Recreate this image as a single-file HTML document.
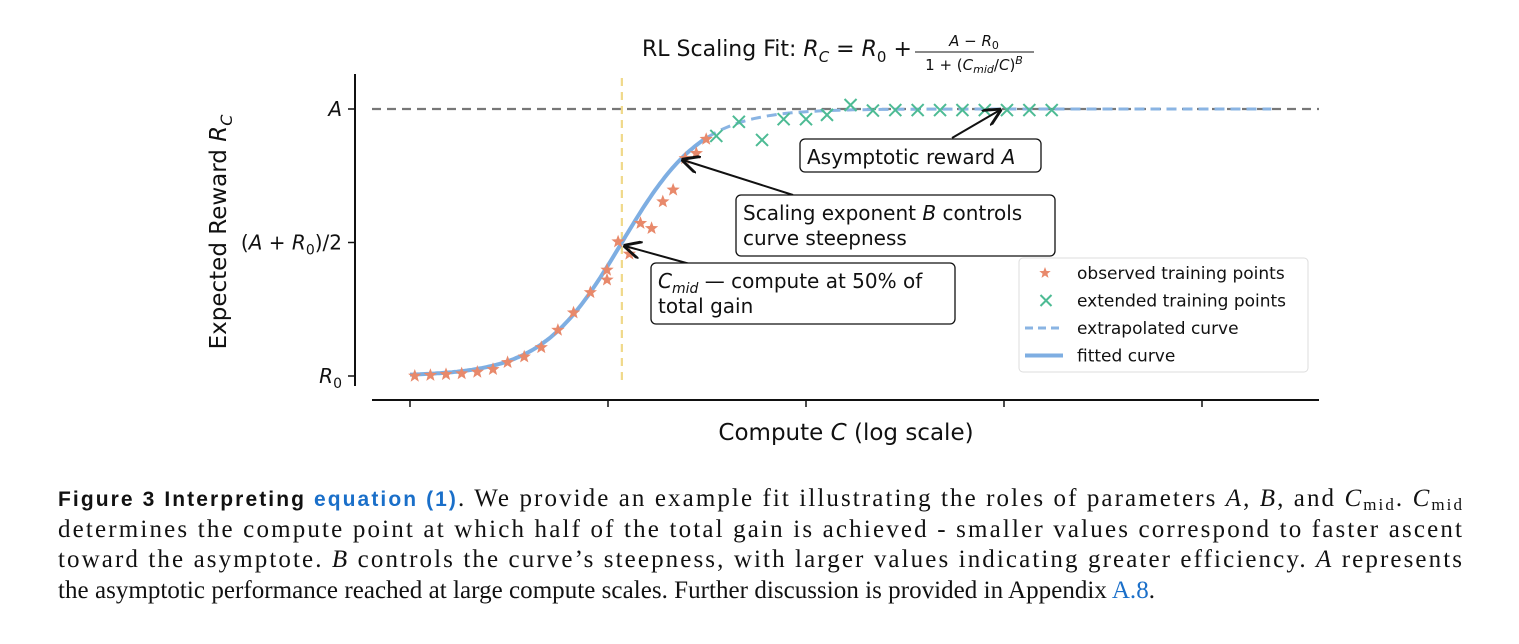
<!DOCTYPE html>
<html><head><meta charset="utf-8"><style>
body{margin:0;background:#fff;width:1519px;height:644px;overflow:hidden}
svg{display:block}
.s{font-family:"DejaVu Sans","Liberation Sans",sans-serif;fill:#111}
.c{font-family:"Liberation Serif","DejaVu Serif",serif;font-size:25px;fill:#111}
.b{font-family:"Liberation Sans","DejaVu Sans",sans-serif;font-weight:bold;font-size:21px}
</style></head><body>
<svg id="chart" width="1519" height="644" viewBox="0 0 1519 644" xmlns="http://www.w3.org/2000/svg">
<g id="plot"></g>
<text class="s" x="642" y="56" font-size="22">RL Scaling Fit: <tspan font-style="italic">R</tspan><tspan font-style="italic" font-size="15" dy="6">C</tspan><tspan dy="-6"> = </tspan><tspan font-style="italic">R</tspan><tspan font-size="15" dy="6">0</tspan><tspan dy="-6"> + </tspan></text>
<text class="s" x="974" y="46" font-size="15" text-anchor="middle" font-style="italic">A − R<tspan font-style="normal" font-size="11" dy="3">0</tspan></text>
<line x1="915" y1="52" x2="1034" y2="52" stroke="#111" stroke-width="1"/>
<text class="s" x="974" y="70" font-size="15" text-anchor="middle">1 + (<tspan font-style="italic">C</tspan><tspan font-style="italic" font-size="11" dy="3">mid</tspan><tspan dy="-3">/</tspan><tspan font-style="italic">C</tspan>)<tspan font-style="italic" font-size="11" dy="-6">B</tspan></text>
<text class="s" transform="translate(226,232) rotate(-90)" text-anchor="middle" font-size="23">Expected Reward  <tspan font-style="italic">R</tspan><tspan font-style="italic" font-size="16" dy="6">C</tspan></text>
<text class="s" x="846" y="440" text-anchor="middle" font-size="23">Compute  <tspan font-style="italic">C</tspan>  (log scale)</text>
<g>
<text class="c" x="58" y="506" textLength="1404" lengthAdjust="spacing"><tspan class="b">Figure 3  Interpreting </tspan><tspan class="b" fill="#1a6fc9">equation (1)</tspan>. We provide an example fit illustrating the roles of parameters <tspan font-style="italic">A</tspan>, <tspan font-style="italic">B</tspan>, and <tspan font-style="italic">C</tspan><tspan font-size="17" dy="4">mid</tspan><tspan dy="-4">. </tspan><tspan font-style="italic">C</tspan><tspan font-size="17" dy="4">mid</tspan></text>
<text class="c" x="58" y="537" textLength="1404" lengthAdjust="spacing">determines the compute point at which half of the total gain is achieved - smaller values correspond to faster ascent</text>
<text class="c" x="58" y="567" textLength="1404" lengthAdjust="spacing">toward the asymptote. <tspan font-style="italic">B</tspan> controls the curve’s steepness, with larger values indicating greater efficiency. <tspan font-style="italic">A</tspan> represents</text>
<text class="c" x="58" y="598" textLength="1097" lengthAdjust="spacing">the asymptotic performance reached at large compute scales. Further discussion is provided in Appendix <tspan fill="#1a6fc9">A.8</tspan>.</text>
</g>
</svg>
<script>
const starX=[0.024,0.103,0.182,0.261,0.340,0.419,0.493,0.577,0.663,0.747,0.826,0.911,0.995,0.995,1.051,1.108,1.164,1.220,1.277,1.329,1.390,1.446,1.496];
const starY=[0,0.003,0.006,0.009,0.015,0.025,0.051,0.072,0.107,0.172,0.237,0.313,0.360,0.397,0.503,0.457,0.572,0.553,0.653,0.697,0.815,0.834,0.887];
const crossX=[1.547,1.661,1.778,1.887,2.000,2.106,2.225,2.338,2.451,2.564,2.677,2.790,2.903,3.015,3.128,3.241];
const crossY=[0.899,0.952,0.884,0.962,0.962,0.978,1.015,0.994,0.996,0.996,0.996,0.996,0.996,0.996,0.996,0.996];
const fitMid=[1.07];
const fitB=[2.14];
const fitRange=[0,1.50];
const extraRange=[1.50,4.35];
const xTicks=[0,1,2,3,4];
const yTickVals=[0,0.5,1];
const yTickLabels=["R0","(A+R0)/2","A"];

const NS="http://www.w3.org/2000/svg";
const g=document.getElementById('plot');
const X=t=>410+t*198, Y=f=>376-f*267;
function mk(tag,a,p){const e=document.createElementNS(NS,tag);for(const k in a)e.setAttribute(k,a[k]);(p||g).appendChild(e);return e;}
const curve=t=>1/(1+Math.pow(10,fitB[0]*(fitMid[0]-t)));
function path(r){let d="";for(let i=0;i<=120;i++){const t=r[0]+(r[1]-r[0])*i/120;d+=(i?"L":"M")+X(t).toFixed(1)+","+Y(curve(t)).toFixed(1);}return d;}

let e=mk('line',{x1:355,y1:74,x2:355,y2:386,stroke:'#111','stroke-width':2});

e=mk('line',{x1:372,y1:400,x2:1319,y2:400,stroke:'#111','stroke-width':2});

xTicks.forEach(t=>{const l=mk('line',{x1:X(t),y1:400,x2:X(t),y2:407,stroke:'#111','stroke-width':1.5});
});
yTickVals.forEach((v,i)=>{const l=mk('line',{x1:348,y1:Y(v),x2:355,y2:Y(v),stroke:'#111','stroke-width':1.5});

const tx=mk('text',{x:342,y:Y(v)+7,'text-anchor':'end','font-size':20,class:'s'});

const lb=yTickLabels[i];
if(lb==="A"){tx.innerHTML='<tspan font-style="italic">A</tspan>';}
else if(lb==="R0"){tx.innerHTML='<tspan font-style="italic">R</tspan><tspan font-size="14" dy="5">0</tspan>';}
else{tx.innerHTML='(<tspan font-style="italic">A</tspan> + <tspan font-style="italic">R</tspan><tspan font-size="14" dy="5">0</tspan><tspan dy="-5">)/2</tspan>';}
});
e=mk('line',{x1:372,y1:Y(1),x2:1319,y2:Y(1),stroke:'#777','stroke-width':2.2,'stroke-dasharray':'9,6'});

e=mk('line',{x1:X(fitMid[0]),y1:78,x2:X(fitMid[0]),y2:384,stroke:'#f0d98a','stroke-width':2.2,'stroke-dasharray':'8,6'});

e=mk('path',{d:path(extraRange),fill:'none',stroke:'#8ab4e3','stroke-width':3,'stroke-dasharray':'10,6'});

e=mk('path',{d:path(fitRange),fill:'none',stroke:'#7eaee2','stroke-width':4});

function star(cx,cy,r){let d="";for(let i=0;i<10;i++){const a=-Math.PI/2+i*Math.PI/5,rr=i%2?r*0.42:r;d+=(i?"L":"M")+(cx+rr*Math.cos(a)).toFixed(1)+","+(cy+rr*Math.sin(a)).toFixed(1);}return d+"Z";}
starX.forEach((t,i)=>{const s=mk('path',{d:star(X(t),Y(starY[i]),7),fill:'#e8896b'});
});
function cross(cx,cy,r,p){const c=mk('path',{d:`M${cx-r},${cy-r}L${cx+r},${cy+r}M${cx-r},${cy+r}L${cx+r},${cy-r}`,stroke:'#4dbb94','stroke-width':2},p);return c;}
crossX.forEach((t,i)=>{const c=cross(X(t),Y(crossY[i]),6);
});
mk('defs',{}).innerHTML='<marker id="ah" viewBox="0 0 10 10" refX="9" refY="5" markerWidth="9" markerHeight="9" orient="auto-start-reverse"><path d="M0,0L10,5L0,10" fill="none" stroke="#111" stroke-width="1.6"/></marker>';
function ann(name,bx,by,bw,bh,lines,ax1,ay1,ax2,ay2){
const a=mk('g',{});
mk('line',{x1:ax1,y1:ay1,x2:ax2,y2:ay2,stroke:'#111','stroke-width':2,'marker-end':'url(#ah)'},a);
mk('rect',{x:bx,y:by,width:bw,height:bh,rx:5,fill:'#fff',stroke:'#111','stroke-width':1.3},a);
lines.forEach((l,i)=>{const t=mk('text',{x:bx+7,y:by+25+i*25,'font-size':20,class:'s'},a);t.innerHTML=l;});}
ann('asymptote-annotation',800,139,241,33,['Asymptotic reward <tspan font-style="italic">A</tspan>'],952,138,1000,110);
ann('steepness-annotation',736,195,319,61,['Scaling exponent <tspan font-style="italic">B</tspan> controls',' curve steepness'],793,195,683,160);
ann('cmid-annotation',651,263,304,61,['<tspan font-style="italic">C</tspan><tspan font-style="italic" font-size="14" dy="5">mid</tspan><tspan dy="-5"> — compute at 50% of</tspan>','total gain'],690,264,625,246);
const lg=mk('g',{});
mk('rect',{x:1019,y:258,width:289,height:114,rx:4,fill:'#fff',stroke:'#ddd','stroke-width':1},lg);
const lt=["observed training points","extended training points","extrapolated curve","fitted curve"];
lt.forEach((s,i)=>{const y=273+i*27.5;
const t=mk('text',{x:1077,y:y+6,'font-size':17,class:'s'},lg);t.textContent=s;

if(i==0)mk('path',{d:star(1045,y,6),fill:'#e8896b'},lg);
if(i==1)cross(1046,y,5.5,lg);
if(i==2)mk('line',{x1:1025,y1:y,x2:1063,y2:y,stroke:'#8ab4e3','stroke-width':3,'stroke-dasharray':'8,5'},lg);
if(i==3)mk('line',{x1:1025,y1:y,x2:1063,y2:y,stroke:'#7eaee2','stroke-width':4},lg);});
</script>
</body></html>
